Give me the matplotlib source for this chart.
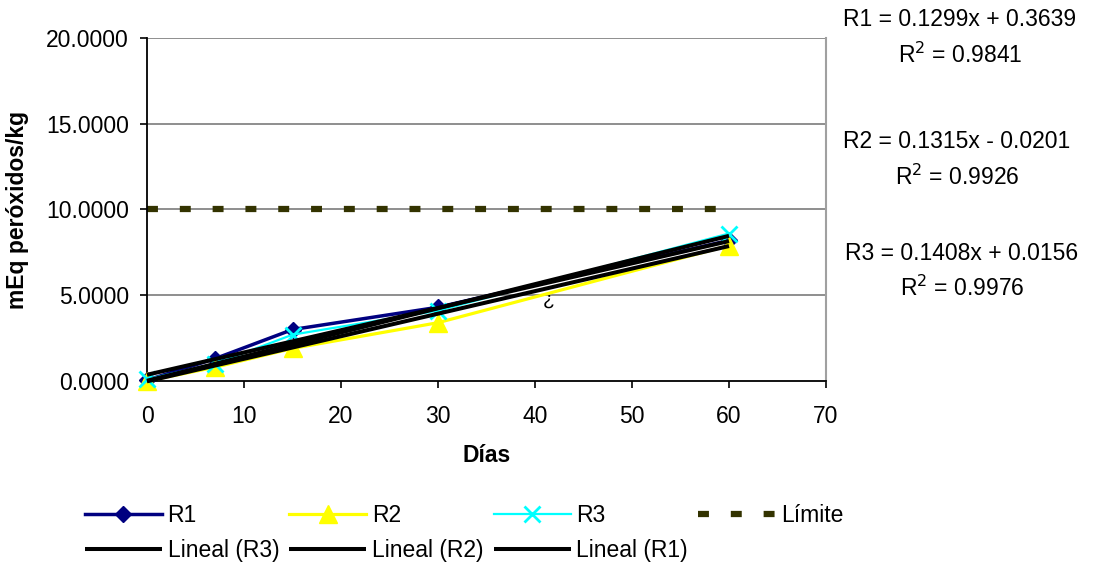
import numpy as np
import matplotlib
matplotlib.use('Agg')
import matplotlib.pyplot as plt

plt.rcParams['font.family'] = ['Liberation Sans', 'DejaVu Sans']
FS = 16.5

# ── data ──────────────────────────────────────────────────────────────────────
dias   = [0, 7, 15, 30, 60]
r1     = [0.05, 1.3, 3.0, 4.3, 8.2]
r2     = [0.0, 0.8, 1.9, 3.4, 7.9]
r3     = [0.1, 1.0, 2.7, 4.1, 8.6]
limite = [10, 10, 10, 10, 10]

slopes     = [0.1299, 0.1315, 0.1408]
intercepts = [0.3639, -0.0201, 0.0156]
r2_vals    = [0.9841, 0.9926, 0.9976]
eq_names   = ['R1', 'R2', 'R3']

NAVY = '#000080'; YELLOW = '#FFFF00'; CYAN = '#00FFFF'; OLIVE = '#333300'

fig = plt.figure(figsize=(10.96, 5.66), dpi=100)
ax = fig.add_axes([147/1096, 1 - 381/566, (826 - 147)/1096, (381 - 38)/566])

# gridlines / frame
for yv in [5, 10, 15, 20]:
    ax.axhline(yv, color='#707070', lw=1.1, zorder=1)
ax.spines['top'].set_visible(False)
ax.spines['right'].set_color('#a0a0a0')
ax.spines['right'].set_linewidth(1.5)
for s in ['left', 'bottom']:
    ax.spines[s].set_color('black')
    ax.spines[s].set_linewidth(1.3)

# series
l_lim, = ax.plot(dias, limite, color=OLIVE, lw=4.5, linestyle=(0, (1.75, 3.5)),
                 solid_capstyle='butt', dash_capstyle='butt', zorder=2)
l1, = ax.plot(dias, r1, color=NAVY, lw=2.5, marker='D', ms=8.5, zorder=3, clip_on=False)
l2, = ax.plot(dias, r2, color=YELLOW, lw=2.3, marker='^', ms=13, zorder=3, clip_on=False)
l3, = ax.plot(dias, r3, color=CYAN, lw=1.6, marker='x', ms=12, mew=2, zorder=3, clip_on=False)

xt = np.array([dias[0], dias[-1]])
trend = []
for m, b in zip(slopes, intercepts):
    ln, = ax.plot(xt, m * xt + b, color='black', lw=2.9, zorder=4,
                  solid_capstyle='butt', clip_on=False)
    trend.append(ln)

ax.text(41.4, 4.7, '¿', fontsize=14, ha='center', va='center', zorder=5)

ax.set_xlim(0, 70)
ax.set_ylim(0, 20)
ax.set_xticks(range(0, 71, 10))
ax.set_yticks([0, 5, 10, 15, 20])
ax.set_yticklabels([f'{v:.4f}' for v in [0, 5, 10, 15, 20]])
ax.tick_params(axis='both', direction='out', length=5, width=1.2, labelsize=FS)
ax.tick_params(axis='x', pad=12)
ax.tick_params(axis='y', pad=8)
ax.set_xlabel('Días', fontsize=FS, fontweight='bold', labelpad=12)
ax.set_ylabel('mEq peróxidos/kg', fontsize=FS, fontweight='bold', labelpad=12)

# regression equations
eq_y = [20, 142, 253]
eq_x = [960, 957, 962]
for name, m, b, rr, yy, xx in zip(eq_names, slopes, intercepts, r2_vals, eq_y, eq_x):
    sign = '+' if b >= 0 else '-'
    fig.text(xx/1096, 1 - yy/566, f'{name} = {m:.4f}x {sign} {abs(b):.4f}',
             fontsize=FS, ha='center', va='center')
    fig.text(xx/1096, 1 - (yy + 35)/566, f'R$^2$ = {rr:.4f}',
             fontsize=FS, ha='center', va='center')

# legend (column-major fill: reorder for row layout)
handles = [l1, trend[2], l2, trend[1], l3, trend[0], l_lim]
labels  = ['R1', 'Lineal (R3)', 'R2', 'Lineal (R2)', 'R3', 'Lineal (R1)', 'Límite']
fig.legend(handles, labels, loc='center left',
           bbox_to_anchor=(85/1096, 1 - 533/566), ncol=4, frameon=False,
           fontsize=FS, handlelength=3.35, handletextpad=0.25,
           columnspacing=0.45, labelspacing=0.52, borderpad=0, borderaxespad=0)

fig.savefig('out.png', dpi=100)
